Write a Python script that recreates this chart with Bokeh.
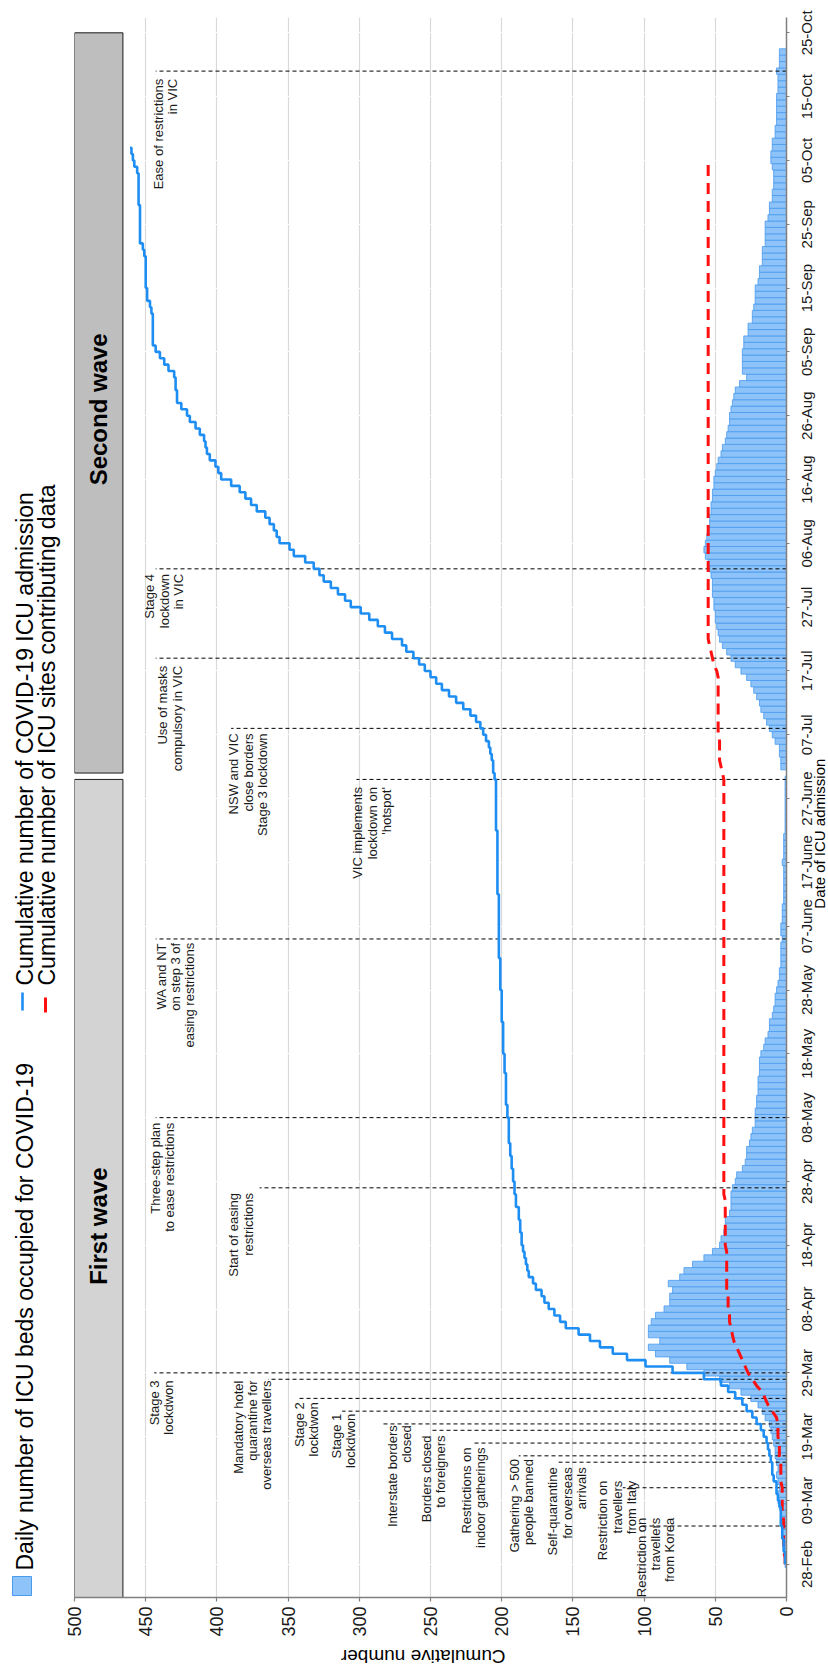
import math

import pandas as pd
from bokeh.core.properties import value
from bokeh.embed import file_html
from bokeh.layouts import column, row
from bokeh.models import ColumnDataSource, FixedTicker, Range1d
from bokeh.plotting import figure
from bokeh.resources import INLINE

# ---------------------------------------------------------------- data
series_start = "2020-02-28"          # first day of every daily series below

# daily number of ICU beds occupied for COVID-19
icu_beds_occupied = [
    1, 1, 2, 2, 2, 3, 3, 4, 4, 5,
    6, 6, 5, 6, 7, 6, 7, 8, 8, 9,
    10, 11, 12, 15, 17, 20, 25, 32, 40, 47,
    58, 70, 82, 92, 97, 89, 97, 97, 95, 92,
    86, 82, 82, 80, 83, 75, 72, 66, 58, 52,
    47, 46, 44, 43, 43, 40, 39, 39, 39, 38,
    36, 35, 31, 29, 28, 28, 26, 25, 24, 22,
    22, 22, 21, 21, 20, 20, 20, 19, 19, 19,
    18, 16, 15, 13, 12, 12, 10, 9, 8, 8,
    7, 6, 5, 5, 4, 4, 4, 4, 3, 4,
    4, 3, 3, 3, 2, 2, 2, 2, 2, 2,
    3, 2, 2, 2, 2, 1, 1, 1, 1, 1,
    1, 1, 1, 1, 0, 4, 4, 5, 5, 8,
    10, 12, 14, 16, 18, 19, 21, 23, 25, 28,
    32, 36, 39, 42, 45, 47, 48, 49, 50, 50,
    51, 51, 52, 52, 52, 53, 54, 55, 57, 58,
    57, 56, 55, 54, 54, 53, 53, 52, 52, 51,
    51, 50, 49, 48, 46, 45, 43, 42, 41, 40,
    40, 39, 38, 37, 36, 33, 28, 31, 31, 31,
    31, 30, 30, 27, 27, 24, 24, 23, 22, 22,
    22, 20, 19, 19, 17, 17, 17, 15, 15, 15,
    15, 13, 12, 12, 10, 10, 9, 9, 9, 10,
    11, 11, 10, 10, 8, 8, 7, 7, 7, 7,
    7, 6, 6, 6, 7, 5, 5, 5,
]

# cumulative number of COVID-19 ICU admissions
cumulative_icu_admissions = [
    1, 1, 2, 2, 3, 3, 4, 4, 4, 5,
    6, 7, 7, 9, 10, 10, 11, 12, 13, 14,
    16, 18, 21, 24, 28, 31, 36, 41, 46, 58,
    80, 99, 112, 122, 131, 138, 146, 155, 159, 163,
    167, 170, 172, 176, 178, 181, 182, 183, 184, 185,
    186, 186, 187, 187, 188, 188, 190, 190, 191, 191,
    192, 192, 193, 193, 194, 194, 195, 195, 195, 195,
    196, 196, 197, 197, 197, 197, 197, 198, 198, 198,
    199, 199, 199, 199, 199, 200, 200, 200, 200, 200,
    201, 201, 201, 201, 201, 202, 202, 202, 202, 202,
    202, 202, 202, 202, 202, 203, 203, 203, 203, 203,
    203, 203, 203, 203, 203, 204, 204, 204, 204, 204,
    204, 204, 204, 205, 206, 206, 207, 208, 209, 211,
    213, 215, 218, 222, 227, 232, 237, 242, 246, 250,
    254, 258, 262, 267, 270, 277, 282, 287, 293, 299,
    306, 310, 315, 320, 325, 328, 332, 338, 346, 349,
    356, 358, 360, 363, 366, 372, 376, 380, 384, 390,
    397, 399, 401, 405, 407, 408, 409, 412, 415, 419,
    421, 425, 428, 428, 429, 429, 430, 434, 437, 440,
    443, 445, 445, 445, 445, 445, 446, 447, 449, 449,
    450, 450, 450, 450, 450, 451, 452, 454, 454, 454,
    454, 454, 454, 455, 455, 455, 455, 455, 456, 458,
    459, 460, 461,
]

# cumulative number of ICU sites contributing data
icu_sites_contributing = [
    1, 1, 2, 2, 2, 2, 2, 2, 3, 3,
    3, 3, 3, 4, 4, 4, 4, 5, 5, 5,
    6, 6, 6, 7, 10, 13, 15, 17, 21, 24,
    27, 29, 31, 33, 35, 37, 38, 39, 40, 40,
    41, 41, 41, 42, 42, 42, 42, 42, 42, 42,
    43, 43, 43, 43, 43, 43, 43, 43, 44, 44,
    44, 44, 44, 44, 44, 44, 44, 44, 44, 44,
    44, 44, 44, 44, 44, 44, 44, 44, 44, 44,
    44, 44, 44, 44, 44, 44, 44, 44, 44, 44,
    44, 44, 44, 44, 44, 44, 44, 44, 44, 44,
    44, 44, 44, 44, 44, 44, 44, 44, 44, 44,
    44, 44, 44, 44, 44, 44, 44, 44, 44, 44,
    44, 44, 44, 44, 45, 46, 47, 47, 47, 47,
    48, 48, 48, 48, 48, 48, 48, 48, 48, 48,
    49, 51, 52, 53, 54, 55, 55, 55, 55, 55,
    55, 55, 55, 55, 55, 55, 55, 55, 55, 55,
    55, 55, 55, 55, 55, 55, 55, 55, 55, 55,
    55, 55, 55, 55, 55, 55, 55, 55, 55, 55,
    55, 55, 55, 55, 55, 55, 55, 55, 55, 55,
    55, 55, 55, 55, 55, 55, 55, 55, 55, 55,
    55, 55, 55, 55, 55, 55, 55, 55, 55, 55,
    55, 55, 55, 55, 55, 55, 55, 55, 55, 55,
    55,
]

date_tick_dates = [
    "2020-02-28", "2020-03-09", "2020-03-19", "2020-03-29", "2020-04-08",
    "2020-04-18", "2020-04-28", "2020-05-08", "2020-05-18", "2020-05-28",
    "2020-06-07", "2020-06-17", "2020-06-27", "2020-07-07", "2020-07-17",
    "2020-07-27", "2020-08-06", "2020-08-16", "2020-08-26", "2020-09-05",
    "2020-09-15", "2020-09-25", "2020-10-05", "2020-10-15", "2020-10-25",
]
date_tick_labels = [
    "28-Feb", "09-Mar", "19-Mar", "29-Mar", "08-Apr", "18-Apr", "28-Apr",
    "08-May", "18-May", "28-May", "07-June", "17-June", "27-June", "07-Jul",
    "17-Jul", "27-Jul", "06-Aug", "16-Aug", "26-Aug", "05-Sep", "15-Sep",
    "25-Sep", "05-Oct", "15-Oct", "25-Oct",
]
value_ticks = [0, 50, 100, 150, 200, 250, 300, 350, 400, 450, 500]

# policy events: date, label and height of the marker line
event_dates = [
    "2020-03-05", "2020-03-11", "2020-03-15", "2020-03-16", "2020-03-18",
    "2020-03-20", "2020-03-21", "2020-03-23", "2020-03-25", "2020-03-28",
    "2020-03-29", "2020-04-27", "2020-05-08", "2020-06-05", "2020-06-30",
    "2020-07-08", "2020-07-19", "2020-08-02", "2020-10-19",
]
event_labels = [
    "Restriction on\ntravellers\nfrom Korea",
    "Restriction on\ntravellers\nfrom Italy",
    "Self-quarantine\nfor overseas\narrivals",
    "Gathering > 500\npeople banned",
    "Restrictions on\nindoor gatherings",
    "Borders closed\nto foreigners",
    "Interstate borders\nclosed",
    "Stage 1\nlockdwon",
    "Stage 2\nlockdwon",
    "Mandatory hotel\nquarantine for\noverseas travellers",
    "Stage 3\nlockdwon",
    "Start of easing\nrestrictions",
    "Three-step plan\nto ease restrictions",
    "WA and NT\non step 3 of\neasing restrictions",
    "VIC implements\nlockdown on\n'hotspot'",
    "NSW and VIC\nclose borders\nStage 3 lockdown",
    "Use of masks\ncompulsory in VIC",
    "Stage 4\nlockdown\nin VIC",
    "Ease of restrictions\nin VIC",
]
event_line_heights = [101, 115, 160, 188, 221, 250, 283, 312, 343, 364,
                      444, 370, 443, 443, 302, 390, 443, 443, 443]

wave_names = ["First wave", "Second wave"]
wave_starts = ["2020-02-20", "2020-07-01"]
wave_ends = ["2020-06-30", "2020-10-25"]

# ---------------------------------------------------------------- label placement
# height (value units) at which each event label is centred, and how far
# (days) its end sits from the marker line
label_heights = [92, 119, 154, 186, 220, 248, 272, 311, 337, 375,
                 439, 383, 438, 429, 291, 378, 433, 437, 436]
label_shift = [1.3, 1.1, -0.8, -0.5, -0.7, -0.8, -0.2, -0.4, -0.6, -0.2,
               -1.2, -0.8, -0.8, -0.6, -1.2, -0.8, -1.2, -0.8, -1.2]
wave_label_days = [53, 181]
DATE_TITLE_DAY = 114.5

# ---------------------------------------------------------------- styling
FONT = "Liberation Sans"
BAR_FILL = "#8DC3F8"
BAR_LINE = "#4A9BEF"
BLUE = "#1F8EF3"
RED = "#FF1010"
GRID = "#D9D9D9"
AXIS = "#7F7F7F"
TEXT = "#1A1A1A"

W, H = 828, 1668
LEG_W = 62                  # legend column
FRAME_LEFT = 12             # borders of the main figure around its frame
FRAME_RIGHT = 11
FRAME_W = 712
MAIN_W = FRAME_LEFT + FRAME_W + FRAME_RIGHT
RIGHT_W = W - LEG_W - MAIN_W  # strip with date labels and date-axis title
BOTTOM_H = 25               # strip holding the value-axis title
MAIN_H = H - BOTTOM_H
FRAME_TOP, FRAME_BOTTOM = 17, 1597
DAY_LO, DAY_HI = -5.2, 242.4
DATE_LABEL_X = 9            # positions inside the right strip
DATE_TITLE_X = 22

start = pd.Timestamp(series_start)


def day(s):
    return (pd.Timestamp(s) - start).days


def strip(width, height):
    f = figure(width=width, height=height,
               x_range=Range1d(0, width), y_range=Range1d(0, height),
               output_backend="svg", toolbar_location=None,
               x_axis_type=None, y_axis_type=None, min_border=0,
               outline_line_color=None, background_fill_color="white",
               border_fill_color="white")
    f.grid.visible = False
    return f


tick_days = [day(d) for d in date_tick_dates]

# ---------------------------------------------------------------- main panel
main = figure(
    width=MAIN_W, height=MAIN_H,
    x_range=Range1d(500, 0), y_range=Range1d(DAY_LO, DAY_HI),
    y_axis_location="right",
    output_backend="svg", toolbar_location=None,
    min_border_left=FRAME_LEFT, min_border_right=FRAME_RIGHT,
    min_border_top=FRAME_TOP, min_border_bottom=MAIN_H - FRAME_BOTTOM,
    outline_line_color=None,
    background_fill_color="white", border_fill_color="white",
)

main.xaxis.ticker = FixedTicker(ticks=value_ticks)
main.yaxis.ticker = FixedTicker(ticks=tick_days)
for ax in (main.xaxis, main.yaxis):
    ax.axis_line_color = AXIS
    ax.axis_line_width = 1.5
    ax.major_tick_line_color = AXIS
    ax.major_tick_line_width = 1.2
    ax.major_tick_in = 0
    ax.minor_tick_line_color = None
main.xaxis.major_label_orientation = math.pi / 2
main.xaxis.major_label_text_font = FONT
main.xaxis.major_label_text_color = TEXT
main.xaxis.major_label_text_font_size = "18px"
main.xaxis.major_tick_out = 4
main.xaxis.major_label_standoff = 5
# the date labels are set beside the axis in the strip on the right
main.yaxis.major_tick_out = 3
main.yaxis.major_label_text_font_size = "1px"
main.yaxis.major_label_text_color = None
main.yaxis.major_label_standoff = 0

main.xgrid.grid_line_color = GRID
main.xgrid.grid_line_width = 1.2
main.ygrid.grid_line_color = "white"
main.ygrid.grid_line_width = 1.2

# wave bands
main.quad(left=466, right=500,
          bottom=[day(s) for s in wave_starts], top=[day(e) for e in wave_ends],
          fill_color=["#D3D3D3", "#BEBEBE"], line_color="#1A1A1A", line_width=1)
main.text(x=[483, 483], y=wave_label_days, text=wave_names,
          angle=math.pi / 2, text_align="center", text_baseline="middle",
          text_font=value(FONT), text_font_style="bold", text_font_size="24px",
          text_color="black")

# daily occupied beds
bed_days = [i for i in range(len(icu_beds_occupied))]
main.hbar(y=bed_days, left=0, right=icu_beds_occupied, height=1.0,
          fill_color=BAR_FILL, line_color=BAR_LINE, line_width=0.8)

# event markers
ev = ColumnDataSource(dict(
    day=[day(d) for d in event_dates],
    label_day=[day(d) + s for d, s in zip(event_dates, label_shift)],
    top=event_line_heights,
    label_at=label_heights,
    text=event_labels,
))
main.segment(x0=0, x1="top", y0="day", y1="day", source=ev,
             line_color="black", line_width=1, line_dash="4 3")
main.text(x="label_at", y="label_day", text="text", source=ev,
          angle=math.pi / 2, text_align="right", text_baseline="middle",
          text_font=value(FONT), text_font_size="13px", text_color=TEXT,
          text_line_height=0.95)

# cumulative series
site_days = [i for i in range(len(icu_sites_contributing))]
main.line(x=icu_sites_contributing, y=site_days, line_color=RED,
          line_width=3, line_dash="11 7")
adm_days = [i for i in range(len(cumulative_icu_admissions))]
main.step(x=cumulative_icu_admissions, y=adm_days, mode="before",
          line_color=BLUE, line_width=2.6)

# ---------------------------------------------------------------- value-axis title
bottom = strip(MAIN_W, BOTTOM_H)
bottom.text(x=[422 - LEG_W], y=[BOTTOM_H / 2], text=["Cumulative number"],
            angle=math.pi, text_align="center", text_baseline="middle",
            text_font=value(FONT), text_font_size="19px", text_color="black")

# ---------------------------------------------------------------- date labels + title
# same day-to-pixel scale as the main panel, extended over the whole height
px_per_day = (FRAME_BOTTOM - FRAME_TOP) / (DAY_HI - DAY_LO)
right = figure(
    width=RIGHT_W, height=H,
    x_range=Range1d(0, RIGHT_W),
    y_range=Range1d(DAY_LO - (H - FRAME_BOTTOM) / px_per_day,
                    DAY_HI + FRAME_TOP / px_per_day),
    x_axis_type=None, y_axis_type=None,
    output_backend="svg", toolbar_location=None, min_border=0,
    outline_line_color=None,
    background_fill_color="white", border_fill_color="white",
)
right.grid.visible = False
right.text(x=[DATE_LABEL_X] * len(tick_days), y=tick_days, text=date_tick_labels,
           angle=math.pi / 2, text_align="center", text_baseline="middle",
           text_font=value(FONT), text_font_size="15px", text_color=TEXT)
right.text(x=[DATE_TITLE_X], y=[DATE_TITLE_DAY], text=["Date of ICU admission"],
           angle=math.pi / 2, text_align="center", text_baseline="middle",
           text_font=value(FONT), text_font_size="15px", text_color="black")

# ---------------------------------------------------------------- legend column
leg = strip(LEG_W, H)


def up(y):
    return H - y


leg.quad(left=[12], right=[31], bottom=[up(1595)], top=[up(1576)],
         fill_color=BAR_FILL, line_color=BAR_LINE, line_width=1)
leg.segment(x0=[22], x1=[22], y0=[up(1010)], y1=[up(992)],
            line_color=BLUE, line_width=2.6)
leg.segment(x0=[45], x1=[45], y0=[up(1012)], y1=[up(997)],
            line_color=RED, line_width=3)
leg.text(x=[24, 24, 46], y=[up(1570), up(985), up(985)],
         text=["Daily number of ICU beds occupied for COVID-19",
               "Cumulative number of COVID-19 ICU admission",
               "Cumulative number of ICU sites contributing data"],
         angle=math.pi / 2, text_align="left", text_baseline="middle",
         text_font=value(FONT), text_font_size="23px", text_color="black")

layout = row(leg, column(main, bottom, spacing=0), right, spacing=0)
open("out.html", "w").write(file_html(layout, INLINE))
